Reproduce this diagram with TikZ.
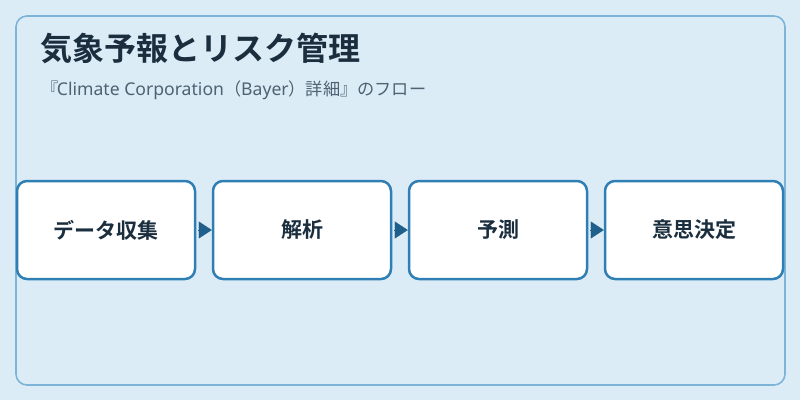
\documentclass[tikz,border=0pt]{standalone}
\usepackage{fontspec}
\setmainfont{Noto Sans CJK JP}
\newfontfamily\jpbold{Noto Sans CJK JP Bold}
\newfontfamily\latinsans{Noto Sans}
\usetikzlibrary{arrows.meta}
\definecolor{bgc}{HTML}{DCECF7}
\definecolor{framec}{HTML}{7DB4D8}
\definecolor{boxc}{HTML}{2F7FB5}
\definecolor{arrc}{HTML}{1F5F8B}
\definecolor{txtc}{HTML}{1A2E3E}
\definecolor{subc}{HTML}{4D6272}
\newcommand{\lat}[1]{{\latinsans\fontsize{17.6}{20}\selectfont #1}}
\tikzset{
  stepbox/.style={draw=boxc, line width=2.5pt, fill=white, rounded corners=10pt,
    minimum width=178pt, minimum height=98pt, inner sep=0pt,
    font=\jpbold\fontsize{21}{24}\selectfont, text=txtc},
  flowarr/.style={draw=arrc, line width=0.2pt, shorten <=2pt,
    -{Triangle[length=13pt,width=17pt,fill=arrc]}},
}
\begin{document}
\begin{tikzpicture}[x=1pt,y=-1pt]
\fill[bgc] (0,0) rectangle (800,400);
\useasboundingbox (0,0) rectangle (800,400);
\draw[framec, line width=1.6pt, rounded corners=11pt] (16,16) rectangle (785,385);
\node[anchor=base west, inner sep=0pt, text=txtc, font=\jpbold\fontsize{32}{36}\selectfont] (title) at (40.5,60) {気象予報とリスク管理};
\node[anchor=base west, inner sep=0pt, text=subc, font=\fontsize{17.2}{20}\selectfont] (sub) at (41.5,95) {『\kern-2pt\lat{Climate Corporation}（\lat{Bayer}）詳細』のフロー};
\node[stepbox] (b1) at (106,230) {データ収集};
\node[stepbox] (b2) at (302,230) {解析};
\node[stepbox] (b3) at (498,230) {予測};
\node[stepbox] (b4) at (694,230) {意思決定};
\draw[flowarr] (b1.east) -- (b2.west);
\draw[flowarr] (b2.east) -- (b3.west);
\draw[flowarr] (b3.east) -- (b4.west);
\end{tikzpicture}
\end{document}
